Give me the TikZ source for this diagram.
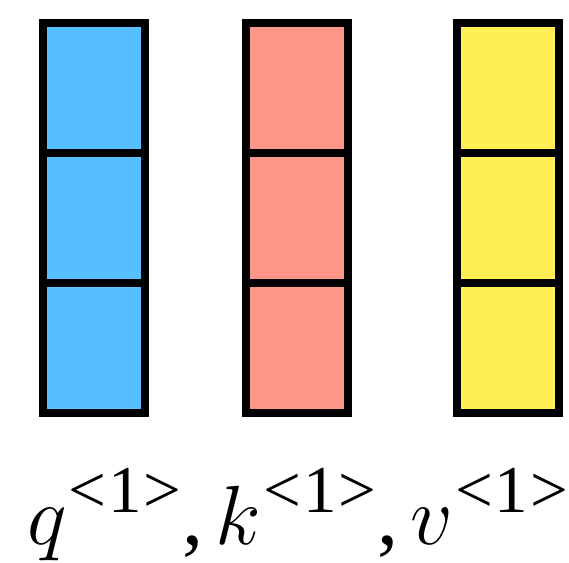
\RequirePackage{fix-cm}
\documentclass[tikz,border=0pt]{standalone}
\usepackage{fontspec}
\setmainfont{Liberation Serif}
\usetikzlibrary{positioning}
\definecolor{qblue}{HTML}{55BFFF}
\definecolor{kred}{HTML}{FF968A}
\definecolor{vyellow}{HTML}{FFEE55}
\tikzset{
  cell/.style={draw=black,line width=8pt,minimum width=102pt,minimum height=130pt,
    inner sep=0pt,outer sep=0pt},
  lbl/.style={font=\fontsize{84}{84}\selectfont,inner sep=0pt,anchor=base west},
}
% superscript <1>
\newcommand{\supone}{\raisebox{32pt}{\fontsize{67}{67}\selectfont<\kern2pt1\kern2pt>}}
\begin{document}
\begin{tikzpicture}[x=1pt,y=1pt]
  \useasboundingbox (0,0) rectangle (569,562);
  % the three columns, three cells each
  \foreach \col/\cx/\clr in {q/94/qblue,k/297/kred,v/507.5/vyellow}{
    \node[cell,fill=\clr] (\col1) at (\cx,474) {};
    \node[cell,fill=\clr,below=0pt of \col1] (\col2) {};
    \node[cell,fill=\clr,below=0pt of \col2] (\col3) {};
  }
  % label
  \node[lbl] (label) at (27,18)
    {\(q\)\kern2pt\supone\kern1pt,\kern12pt\(k\)\kern2pt\supone\kern1pt,\kern12pt\(v\)\kern2pt\supone};
\end{tikzpicture}
\end{document}
